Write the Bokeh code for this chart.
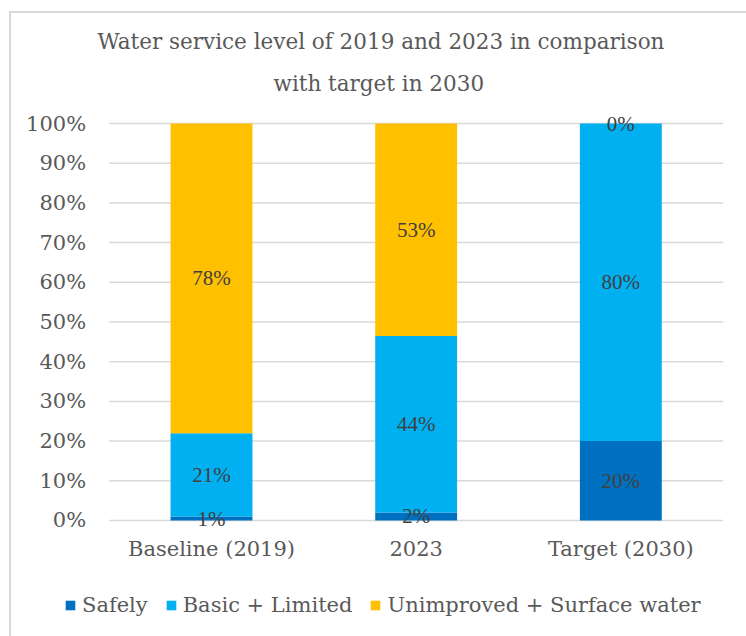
from bokeh.plotting import figure
from bokeh.models import (ColumnDataSource, Range1d, Legend, LegendItem, LabelSet,
                          NumeralTickFormatter, FixedTicker, Title)
from bokeh.embed import file_html
from bokeh.resources import INLINE

categories = ["Baseline (2019)", "2023", "Target (2030)"]
series = ["Safely", "Basic + Limited", "Unimproved + Surface water"]
safely = [1, 2, 20]
basic = [21, 44, 80]
unimproved = [78, 53, 0]
colors = ["#0070C0", "#00B0F0", "#FFC000"]
y_ticks = [0, 0.1, 0.2, 0.3, 0.4, 0.5, 0.6, 0.7, 0.8, 0.9, 1.0]
title_lines = ["Water service level of 2019 and 2023 in comparison", "with target in 2030"]

FONT = "DejaVu Serif"
FS = "21px"

x_pos = [i + 1 for i in range(len(categories))]
totals = [a + b + c for a, b, c in zip(safely, basic, unimproved)]
norm = {
    "Safely": [v / t for v, t in zip(safely, totals)],
    "Basic + Limited": [v / t for v, t in zip(basic, totals)],
    "Unimproved + Surface water": [v / t for v, t in zip(unimproved, totals)],
}
src = ColumnDataSource(dict(x=x_pos, **norm))

p = figure(x_range=Range1d(-0.0309, 3.614), y_range=Range1d(-0.2922, 1.0378),
           frame_width=746, frame_height=528, output_backend="svg", toolbar_location=None,
           min_border_left=0, min_border_right=0, min_border_top=108, min_border_bottom=0)
p.background_fill_color = None
p.border_fill_color = None
p.styles = {
    "background": "linear-gradient(#D9D9D9, #D9D9D9) 9px 11px / 2px 100% no-repeat, "
                  "linear-gradient(#D9D9D9, #D9D9D9) 9px 11px / 100% 2px no-repeat, #FFFFFF"
}

# horizontal gridlines across the category extent
n_t = len(y_ticks)
p.segment(x0=[0.5] * n_t, x1=[len(categories) + 0.5] * n_t, y0=y_ticks, y1=y_ticks,
          line_color="#D9D9D9", line_width=1.5)

rs = p.vbar_stack(series, x="x", width=0.4, color=colors, source=src, line_color=None)

# data labels
lab_x, lab_y, lab_t = [], [], []
raw = [safely, basic, unimproved]
for i, xp in enumerate(x_pos):
    base = 0.0
    for s, name in enumerate(series):
        h = norm[name][i]
        lab_x.append(xp)
        lab_y.append(base + h / 2)
        lab_t.append(f"{raw[s][i]}%")
        base += h
lsrc = ColumnDataSource(dict(x=lab_x, y=lab_y, t=lab_t))
p.add_layout(LabelSet(x="x", y="y", text="t", source=lsrc, text_align="center",
                      text_baseline="middle", text_font=FONT, text_font_size=FS,
                      text_color="#404040"))

p.add_layout(Title(text=title_lines[1], align="left", offset=273, standoff=26,
                   text_font=FONT, text_font_size="21.5px", text_font_style="normal",
                   text_color="#595959"), "above")
p.add_layout(Title(text=title_lines[0], align="left", offset=97, standoff=4,
                   text_font=FONT, text_font_size="21.5px", text_font_style="normal",
                   text_color="#595959"), "above")

p.yaxis.ticker = FixedTicker(ticks=y_ticks)
p.yaxis.formatter = NumeralTickFormatter(format="0%")
p.yaxis.fixed_location = 0.5
p.xaxis.ticker = FixedTicker(ticks=x_pos)
p.xaxis.major_label_overrides = {xp: c for xp, c in zip(x_pos, categories)}
p.xaxis.fixed_location = 0
for ax in (p.xaxis, p.yaxis):
    ax.axis_line_color = None
    ax.major_tick_line_color = None
    ax.minor_tick_line_color = None
    ax.major_tick_out = 0
    ax.major_tick_in = 0
    ax.major_label_text_font = FONT
    ax.major_label_text_font_size = FS
    ax.major_label_text_color = "#595959"
p.yaxis.major_label_standoff = 23
p.xaxis.major_label_standoff = 17
p.xgrid.grid_line_color = None
p.ygrid.grid_line_color = None
p.outline_line_color = None

legend = Legend(items=[LegendItem(label=n, renderers=[r]) for n, r in zip(series, rs)],
                orientation="horizontal", location=(64, 19),
                label_text_font=FONT, label_text_font_size=FS, label_text_color="#595959",
                glyph_width=12, glyph_height=12, label_standoff=6, spacing=17,
                border_line_color=None, background_fill_alpha=0, padding=0, margin=0)
p.add_layout(legend, "center")

open("out.html", "w").write(file_html(p, INLINE))
